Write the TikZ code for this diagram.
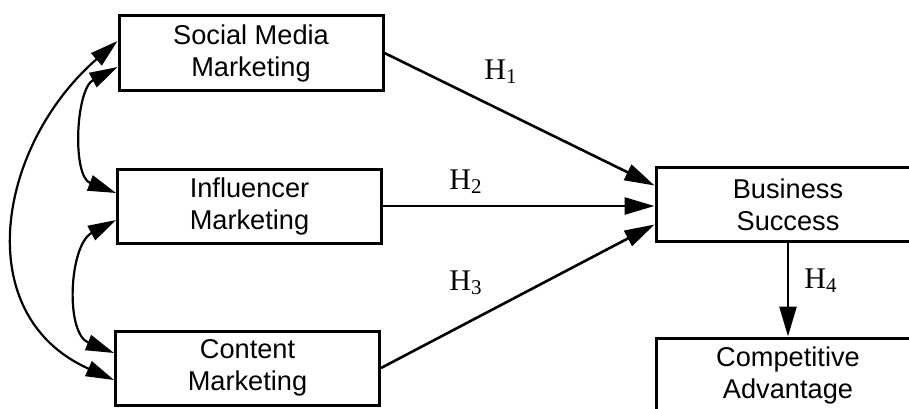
\documentclass[tikz,border=0pt]{standalone}
\usepackage{fontspec}
\setmainfont{Liberation Serif}
\setsansfont{Liberation Sans}
\usepackage{tikz}
\usetikzlibrary{arrows.meta, positioning, calc}

\tikzset{
  construct/.style={draw, line width=1.5pt, minimum width=132pt, minimum height=37pt,
                    inner sep=0pt, align=center, font=\sffamily\fontsize{13.6}{16}\selectfont},
  hyplabel/.style={font=\fontsize{15}{18}\selectfont, inner sep=0pt},
  link/.style={line width=1.3pt, -{Triangle[length=15pt, width=8.5pt]}},
  corr/.style={line width=1.1pt, {Triangle[length=14pt, width=8pt]}-{Triangle[length=14pt, width=8pt]}}
}

\begin{document}
\begin{tikzpicture}[x=0.5pt, y=0.5pt]
\useasboundingbox (0,0) rectangle (909,408);
\clip (0,0) rectangle (909,408);

% constructs
\node[construct] (smm) at (251,355) {Social Media\\Marketing};
\node[construct] (im)  at (249.5,202) {Influencer\\Marketing};
\node[construct] (cm)  at (247.5,40) {Content\\Marketing};
\node[construct] (bs)  at (788,203.5) {Business\\Success};
\node[construct] (ca)  at (788,33) {Competitive\\Advantage};

% hypotheses
\draw[link] (smm.east) -- ($(bs.west)+(0,19)$);
\draw[link] (im.east) -- (im.east -| bs.west);
\draw[link] (cm.east) -- ($(bs.west)+(0,-20)$);
\draw[link] (bs.south) -- (ca.north);

\node[hyplabel] (h1) at (501,336) {H\textsubscript{1}};
\node[hyplabel] (h2) at (466,226) {H\textsubscript{2}};
\node[hyplabel] (h3) at (466,125) {H\textsubscript{3}};
\node[hyplabel] (h4) at (821,127) {H\textsubscript{4}};

% correlations
\draw[corr] ($(smm.west)+(0,12)$) to[out=221, in=156, looseness=1.2] ($(cm.west)+(0,-12)$);
\draw[corr] ($(smm.west)+(0,-14)$) to[out=208, in=159, looseness=0.96] ($(im.west)+(0,13)$);
\draw[corr] ($(im.west)+(0,-14)$) to[out=208, in=158, looseness=1.02] ($(cm.west)+(0,15)$);
\end{tikzpicture}
\end{document}
